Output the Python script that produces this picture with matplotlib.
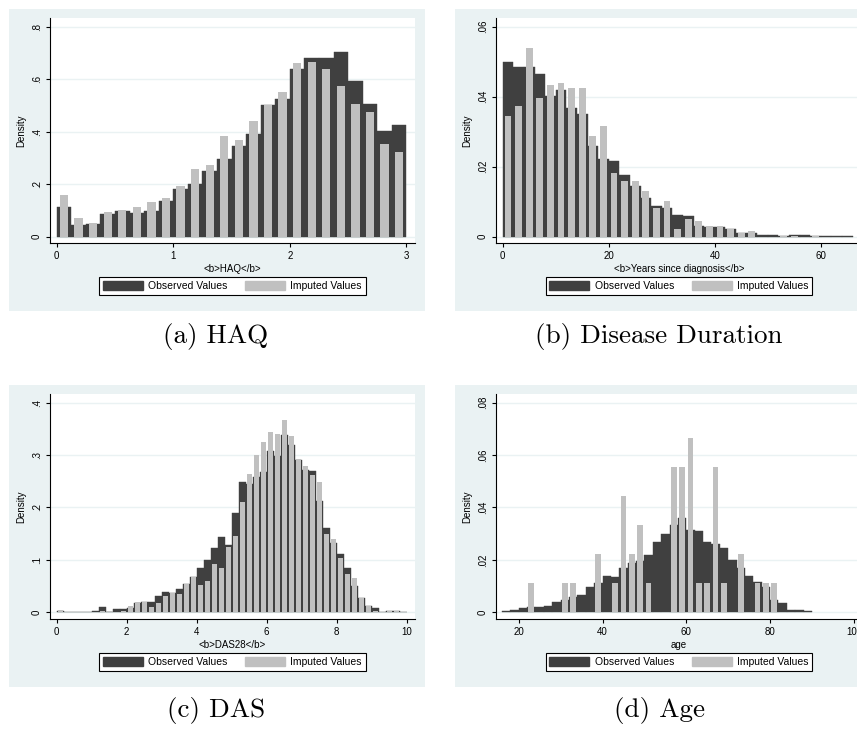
import matplotlib.pyplot as plt
import numpy as np
from matplotlib.patches import Patch, Rectangle

plt.rcParams["font.family"] = ["Liberation Sans", "DejaVu Sans"]

################## Dados ##################

# HAQ: 24 classes de 0.125 a partir de 0
haq_start, haq_width = 0.0, 0.125
haq_obs = [0.114, 0.044, 0.049, 0.086, 0.098, 0.089, 0.099, 0.137, 0.182, 0.200,
           0.250, 0.295, 0.347, 0.390, 0.500, 0.524, 0.639, 0.679, 0.682, 0.702,
           0.593, 0.505, 0.401, 0.424]
haq_imp = [0.159, 0.072, 0.051, 0.095, 0.103, 0.113, 0.131, 0.146, 0.193, 0.258,
           0.273, 0.385, 0.368, 0.440, 0.500, 0.550, 0.660, 0.665, 0.637, 0.575,
           0.504, 0.475, 0.354, 0.324]

# Anos desde o diagnostico: 33 classes de 2 a partir de 0
dur_start, dur_width = 0.0, 2.0
dur_obs = [0.0499, 0.0484, 0.0484, 0.0464, 0.0402, 0.0418, 0.0368, 0.0352, 0.0259, 0.0223,
           0.0216, 0.0176, 0.0145, 0.0110, 0.0087, 0.0083, 0.0062, 0.0060, 0.0030, 0.0029,
           0.0027, 0.0022, 0.0012, 0.0012, 0.0005, 0.0004, 0.0003, 0.0004, 0.0004, 0.0003,
           0.0002, 0.0002, 0.0002]
dur_imp = [0.0346, 0.0374, 0.0540, 0.0396, 0.0433, 0.0439, 0.0426, 0.0426, 0.0289, 0.0317,
           0.0181, 0.0160, 0.0160, 0.0131, 0.0081, 0.0102, 0.0023, 0.0052, 0.0044, 0.0030,
           0.0030, 0.0022, 0.0010, 0.0017, 0.0, 0.0, 0.0003, 0.0003, 0.0, 0.0003,
           0.0, 0.0, 0.0]

# DAS28: 50 classes de 0.2 a partir de 0
das_start, das_width = 0.0, 0.2
das_obs = [0.0020, 0.0013, 0.0, 0.0, 0.0006, 0.0025, 0.0095, 0.0010, 0.0064, 0.0064,
           0.0076, 0.0170, 0.0200, 0.0200, 0.0305, 0.0390, 0.0360, 0.0445, 0.0540, 0.0670,
           0.0845, 0.0990, 0.1230, 0.1437, 0.1280, 0.1890, 0.2486, 0.2450, 0.2590, 0.2670,
           0.3080, 0.2980, 0.3380, 0.3200, 0.2900, 0.2720, 0.2700, 0.2120, 0.1600, 0.1320,
           0.1110, 0.0840, 0.0500, 0.0270, 0.0127, 0.0076, 0.0010, 0.0020, 0.0020, 0.0013]
das_imp = [0.0045, 0.0, 0.0, 0.0, 0.0, 0.0, 0.0025, 0.0025, 0.0, 0.0025,
           0.0127, 0.0197, 0.0197, 0.0100, 0.0180, 0.0305, 0.0375, 0.0350, 0.0540, 0.0680,
           0.0520, 0.0600, 0.0915, 0.0845, 0.1246, 0.1460, 0.2110, 0.2630, 0.3000, 0.3250,
           0.3450, 0.3410, 0.3670, 0.3370, 0.2920, 0.2790, 0.2620, 0.2480, 0.1490, 0.1400,
           0.1040, 0.0740, 0.0650, 0.0270, 0.0120, 0.0030, 0.0, 0.0020, 0.0030, 0.0]

# Idade: 37 classes de 2 a partir de 16
age_start, age_width = 16.0, 2.0
age_obs = [0.0005, 0.0010, 0.0015, 0.0020, 0.0022, 0.0025, 0.0040, 0.0045, 0.0060, 0.0065,
           0.0098, 0.0110, 0.0140, 0.0135, 0.0170, 0.0190, 0.0195, 0.0220, 0.0270, 0.0300,
           0.0335, 0.0360, 0.0315, 0.0310, 0.0270, 0.0260, 0.0245, 0.0200, 0.0170, 0.0140,
           0.0115, 0.0095, 0.0045, 0.0035, 0.0010, 0.0008, 0.0005]
age_imp = [0.0, 0.0, 0.0, 0.0111, 0.0, 0.0, 0.0, 0.0111, 0.0111, 0.0,
           0.0, 0.0222, 0.0, 0.0111, 0.0444, 0.0222, 0.0333, 0.0111, 0.0, 0.0,
           0.0555, 0.0555, 0.0666, 0.0111, 0.0111, 0.0555, 0.0111, 0.0, 0.0222, 0.0,
           0.0111, 0.0111, 0.0111, 0.0, 0.0, 0.0, 0.0]

haq_xticks = [0, 1, 2, 3]
dur_xticks = [0, 20, 40, 60]
das_xticks = [0, 2, 4, 6, 8, 10]
age_xticks = [20, 40, 60, 80, 100]

haq_yticks = [0, 0.2, 0.4, 0.6, 0.8]
haq_ylabels = ["0", ".2", ".4", ".6", ".8"]
dur_yticks = [0, 0.02, 0.04, 0.06]
dur_ylabels = ["0", ".02", ".04", ".06"]
das_yticks = [0, 0.1, 0.2, 0.3, 0.4]
das_ylabels = ["0", ".1", ".2", ".3", ".4"]
age_yticks = [0, 0.02, 0.04, 0.06, 0.08]
age_ylabels = ["0", ".02", ".04", ".06", ".08"]

legend_labels = ["Observed Values", "Imputed Values"]
captions = ["(a) HAQ", "(b) Disease Duration", "(c) DAS", "(d) Age"]

################## Estilo / layout ##################

W, H = 857, 730
DARK = "#404040"
LIGHT = "#c0c0c0"
BG = "#eaf2f3"
GRID = "#eaf2f3"


def caixa(esq, topo, dir, baixo):
    return [esq / W, 1 - baixo / H, (dir - esq) / W, (baixo - topo) / H]


paineis = [
    dict(box=(50, 18, 415, 243), bg=(9, 9, 425, 311), cap=(216, 336),
         start=haq_start, width=haq_width, obs=haq_obs, imp=haq_imp, frac=0.57,
         xlim=(-0.057, 3.073), ylim=(-0.024, 0.833), xticks=haq_xticks,
         yticks=haq_yticks, ylabels=haq_ylabels, xlabel="<b>HAQ</b>"),
    dict(box=(496.3, 18, 861.3, 243), bg=(455, 9, 871, 311), cap=(659, 336),
         start=dur_start, width=dur_width, obs=dur_obs, imp=dur_imp, frac=0.63,
         xlim=(-1.21, 67.66), ylim=(-0.0018, 0.0625), xticks=dur_xticks,
         yticks=dur_yticks, ylabels=dur_ylabels, xlabel="<b>Years since diagnosis</b>"),
    dict(box=(50, 394, 415, 619), bg=(9, 385, 425, 687), cap=(216, 711),
         start=das_start, width=das_width, obs=das_obs, imp=das_imp, frac=0.71,
         xlim=(-0.19, 10.24), ylim=(-0.0128, 0.4166), xticks=das_xticks,
         yticks=das_yticks, ylabels=das_ylabels, xlabel="<b>DAS28</b>"),
    dict(box=(496.3, 394, 861.3, 619), bg=(455, 385, 871, 687), cap=(659, 711),
         start=age_start, width=age_width, obs=age_obs, imp=age_imp, frac=0.68,
         xlim=(14.65, 101.77), ylim=(-0.00256, 0.0833), xticks=age_xticks,
         yticks=age_yticks, ylabels=age_ylabels, xlabel="age"),
]

fig = plt.figure(figsize=(W / 100, H / 100), dpi=100)

for i, p in enumerate(paineis):
    l, t, r, b = p["bg"]
    fig.add_artist(Rectangle((l / W, 1 - b / H), (r - l) / W, (b - t) / H,
                             transform=fig.transFigure, facecolor=BG,
                             edgecolor="none", zorder=0))

    ax = fig.add_axes(caixa(*p["box"]))
    ax.set_facecolor("white")

    n = len(p["obs"])
    centros = p["start"] + p["width"] * (np.arange(n) + 0.5)
    ax.bar(centros, p["obs"], width=p["width"], color=DARK, edgecolor=DARK,
           linewidth=0.3, zorder=2)
    ax.bar(centros, p["imp"], width=p["width"] * p["frac"], color=LIGHT,
           edgecolor="none", zorder=3)

    ax.set_xlim(*p["xlim"])
    ax.set_ylim(*p["ylim"])
    ax.set_xticks(p["xticks"])
    ax.set_yticks(p["yticks"])
    ax.set_yticklabels(p["ylabels"], rotation=90, va="center")

    ax.yaxis.grid(True, color=GRID, linewidth=1.0)
    ax.set_axisbelow(True)
    for lado in ["top", "right"]:
        ax.spines[lado].set_visible(False)
    for lado in ["left", "bottom"]:
        ax.spines[lado].set_linewidth(0.8)
        ax.spines[lado].set_color("black")
    ax.tick_params(direction="out", length=3, width=0.8, labelsize=7, pad=3)

    ax.set_ylabel("Density", fontsize=7, labelpad=4)
    ax.set_xlabel(p["xlabel"], fontsize=7, labelpad=2)

    handles = [Patch(facecolor=DARK, edgecolor=DARK, label=legend_labels[0]),
               Patch(facecolor=LIGHT, edgecolor=LIGHT, label=legend_labels[1])]
    leg = ax.legend(handles=handles, loc="upper center",
                    bbox_to_anchor=(0.5, -34 / 225), ncol=2, fontsize=7.5,
                    frameon=True, fancybox=False, edgecolor="black", framealpha=1,
                    handlelength=3.84, handleheight=1.06, handletextpad=0.5,
                    columnspacing=1.7, borderpad=0.35, borderaxespad=0)
    leg.get_frame().set_linewidth(0.8)

    cx, cy = p["cap"]
    fig.text(cx / W, 1 - cy / H, captions[i], ha="center", va="center",
             fontsize=19.5, family="cmr10")

plt.savefig("out.png", dpi=100)
plt.close()
